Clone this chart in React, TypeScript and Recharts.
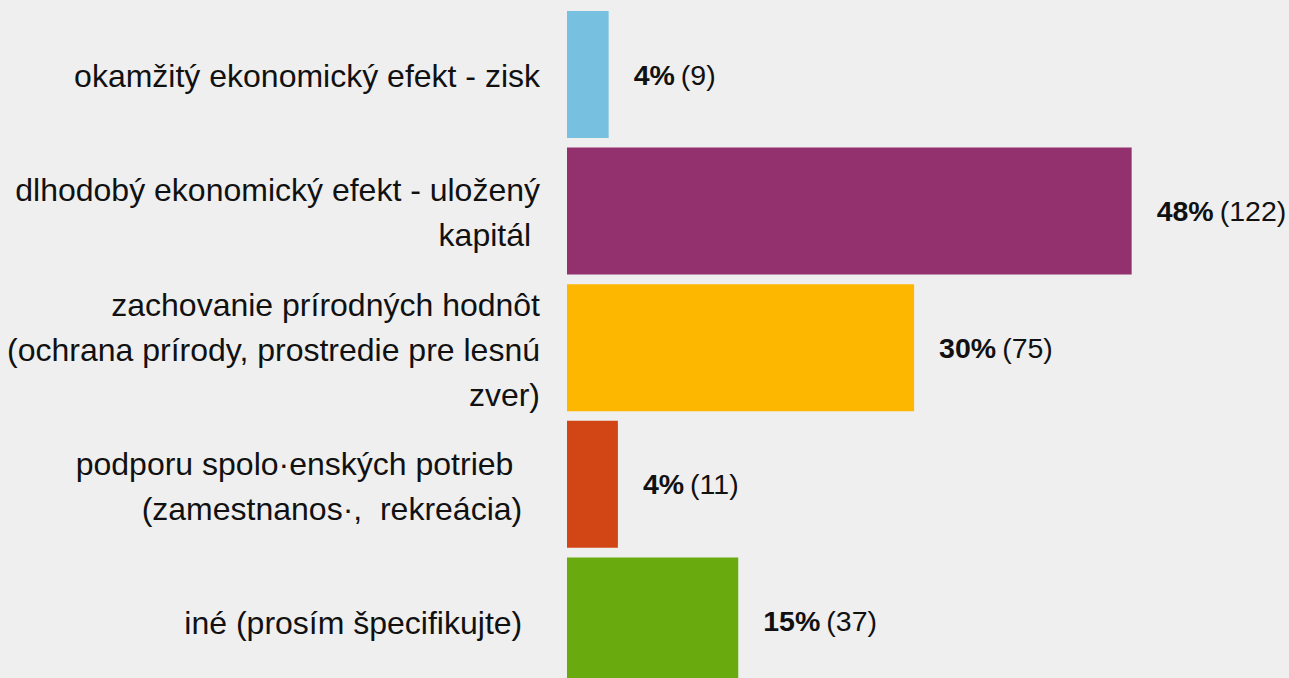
import React from "react";
import { BarChart, Bar, XAxis, YAxis, Cell, LabelList } from "recharts";

const categories = [
  "okamžitý ekonomický efekt - zisk",
  "dlhodobý ekonomický efekt - uložený kapitál",
  "zachovanie prírodných hodnôt (ochrana prírody, prostredie pre lesnú zver)",
  "podporu spolo·enských potrieb (zamestnanos·,  rekreácia)",
  "iné (prosím špecifikujte)",
];
const categoryLines = [
  ["okamžitý ekonomický efekt - zisk"],
  ["dlhodobý ekonomický efekt - uložený", "kapitál "],
  ["zachovanie prírodných hodnôt", "(ochrana prírody, prostredie pre lesnú", "zver)"],
  ["podporu spolo·enských potrieb   ", "(zamestnanos·,  rekreácia)  "],
  ["iné (prosím špecifikujte)  "],
];
const counts = [9, 122, 75, 11, 37];
const percents = [4, 48, 30, 4, 15];
const colors = ["#77C0E0", "#93306E", "#FDB700", "#D24515", "#69AB0E"];

const data = categories.map((name, i) => ({
  name,
  count: counts[i],
  pct: percents[i],
}));

const FONT = "'Liberation Sans', Arial, sans-serif";

const CategoryTick = (props: any) => {
  const { y, payload } = props;
  const lines = categoryLines[payload.index] || [payload.value];
  const lh = 45;
  const start = y - ((lines.length - 1) * lh) / 2 + 2;
  return (
    <g>
      {lines.map((ln: string, k: number) => (
        <text
          key={k}
          x={540}
          y={start + k * lh}
          textAnchor="end"
          dominantBaseline="central"
          fontFamily={FONT}
          fontSize={32}
          fill="#111"
          style={{ whiteSpace: "pre" }}
        >
          {ln}
        </text>
      ))}
    </g>
  );
};

const ValueLabel = (props: any) => {
  const { x, y, width, height, index } = props;
  return (
    <text
      x={x + width + 25}
      y={y + height / 2}
      dominantBaseline="central"
      fontFamily={FONT}
      fontSize={28.5}
      fill="#111"
    >
      <tspan fontWeight="bold">{percents[index]}%</tspan>
      <tspan dx={6}>({counts[index]})</tspan>
    </text>
  );
};

export default function App() {
  return (
    <div
      style={{
        position: "absolute",
        left: 0,
        top: 0,
        width: 1289,
        height: 678,
        overflow: "hidden",
        background: "#EFEFEF",
      }}
    >
      <BarChart
        width={1289}
        height={689}
        data={data}
        layout="vertical"
        margin={{ top: 6, right: 0, bottom: 0, left: 0 }}
        barCategoryGap={5}
      >
        <XAxis type="number" hide domain={[0, 156]} />
        <YAxis
          type="category"
          dataKey="name"
          width={567}
          axisLine={false}
          tickLine={false}
          tick={<CategoryTick />}
          interval={0}
        />
        <Bar dataKey="count" isAnimationActive={false}>
          {data.map((d, i) => (
            <Cell key={i} fill={colors[i]} />
          ))}
          <LabelList dataKey="count" content={<ValueLabel />} />
        </Bar>
      </BarChart>
    </div>
  );
}
